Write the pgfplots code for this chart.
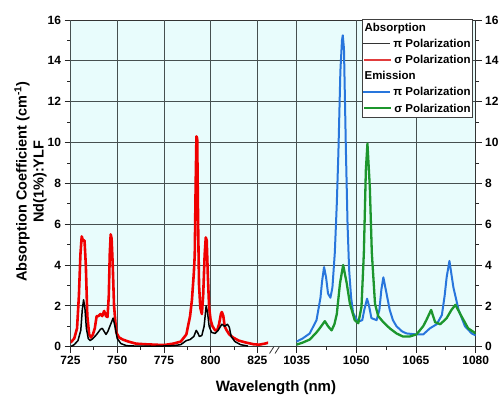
\documentclass[border=0pt]{standalone}
\usepackage{fontspec}
\setmainfont{Liberation Sans}
\usepackage{pgfplots}
\pgfplotsset{compat=1.18}
\definecolor{bgc}{RGB}{232,252,252}
\definecolor{gridc}{RGB}{70,80,80}
\definecolor{myblue}{RGB}{40,118,220}
\definecolor{mygreen}{RGB}{28,150,45}
\definecolor{myred}{RGB}{240,0,0}
\definecolor{legred}{RGB}{225,60,60}
\pgfplotsset{
  common/.style={
    scale only axis, height=326.7pt,
    ymin=0, ymax=16,
    tick align=outside,
    major tick length=6pt, minor tick length=3.5pt,
    every tick/.style={line width=0.8pt, black!85},
    axis line style={line width=0.9pt, black!80},
    tick label style={font=\bfseries\fontsize{12}{14}\selectfont},
    /pgf/number format/assume math mode=true,
    /pgf/number format/1000 sep={},
    grid style={line width=0.8pt, gridc},
  }
}
\begin{document}
\begin{tikzpicture}[x=1pt,y=1pt]
\useasboundingbox (0,0) rectangle (503,396);
% outer frame axis
\begin{axis}[common,
  at={(70.5pt,49.3pt)}, anchor=south west, width=405.2pt,
  xmin=0, xmax=1, xtick=\empty,
  axis x line*=top, axis y line*=left,
  axis background/.style={fill=bgc},
  ytick={0,2,...,16}, minor y tick num=1, ymajorgrids,
  ylabel={Absorption Coefficient (cm\textsuperscript{-1})\\Nd(1\%):YLF},
  ylabel style={at={(axis description cs:-0.0987,0.505)}, anchor=center, align=center,
    font=\bfseries\fontsize{14.5}{17}\selectfont},
  xlabel={Wavelength (nm)},
  xlabel style={at={(axis description cs:0.507,-0.125)}, anchor=center,
    font=\bfseries\fontsize{15}{17}\selectfont},
]
\end{axis}
% left segment
\begin{axis}[common,
  at={(70.5pt,49.3pt)}, anchor=south west, width=197.5pt,
  xmin=725, xmax=830.7, ytick=\empty,
  axis x line*=bottom, axis y line=none,
  xtick={725,750,775,800,825}, minor x tick num=1, xmajorgrids,
]
\addplot[myred, line width=2.6pt, line join=round] coordinates {
(725,0.2) (727,0.4) (728.5,0.9) (729.5,2.5) (730.3,4.5) (731,5.4) (731.7,5.2) (732.5,5.2)
(733.2,4.0) (734,1.5) (735,0.6) (736,0.45) (737,0.6) (738,0.9) (739,1.5) (740,1.5)
(741,1.6) (742,1.5) (743,1.75) (744,1.5) (744.8,1.45) (745.5,2.5) (746,4.5) (746.5,5.5)
(747,5.3) (747.6,4.0) (748.3,2.0) (749.5,0.7) (751,0.45) (753,0.35) (756,0.25) (760,0.15)
(765,0.12) (770,0.1) (775,0.08) (780,0.15) (784,0.25) (787,0.6) (789,1.5) (790,2.3)
(791,3.6) (791.5,4.5) (792,8.0) (792.4,10.3) (792.8,10.2) (793.3,6.0) (793.8,3.0) (794.5,1.9)
(795.3,1.6) (796,2.5) (796.8,4.5) (797.4,5.35) (797.9,5.2) (798.5,3.5) (799.2,1.9) (800,1.3)
(801,1.0) (802.4,0.8) (803.5,0.8) (804.5,1.1) (805.5,1.6) (806,1.7) (806.8,1.5) (807.5,1.0)
(808.6,0.8) (810,0.6) (812,0.45) (815,0.3) (819,0.2) (823,0.12) (826,0.1) (829,0.15) (831,0.2)
};
\addplot[black, line width=1.5pt, line join=round] coordinates {
(725,0.0) (727,0.1) (729,0.3) (730.5,0.8) (731.3,1.8) (732,2.3) (732.7,1.9) (733.5,0.9)
(734.5,0.4) (735.5,0.3) (737,0.4) (739,0.6) (741,0.85) (742,0.9) (743,0.75) (744,0.6)
(745,0.75) (746.5,1.1) (747.8,1.4) (748.8,1.0) (750,0.4) (752,0.15) (755,0.05) (760,0.03)
(770,0.02) (780,0.05) (784,0.1) (787,0.3) (789,0.35) (791,0.5) (792.3,0.8) (793,0.7)
(794,0.5) (795.3,0.55) (796.5,1.0) (797.6,2.0) (798.3,1.7) (799.2,1.0) (800.5,0.7) (802.4,0.65)
(804,0.8) (806,1.1) (807.5,1.0) (809,1.1) (810,0.95) (811,0.5) (813,0.25) (816,0.1) (820,0.03)
};
\end{axis}
% right segment
\begin{axis}[common,
  at={(280pt,49.3pt)}, anchor=south west, width=195.7pt,
  xmin=1030.83, xmax=1080,
  axis x line*=bottom, axis y line*=right,
  xtick={1035,1050,1065,1080}, minor x tick num=1, xmajorgrids,
  ytick={0,2,...,16}, minor y tick num=1,
]
\addplot[myblue, line width=2pt, line join=round] coordinates {
(1035,0.25) (1036.5,0.4) (1038.3,0.65) (1040,1.3) (1041,2.4) (1041.4,3.2) (1041.9,3.9) (1042.4,3.4)
(1042.9,2.6) (1043.5,2.4) (1044,2.9) (1044.6,4.6) (1045.1,7.0) (1045.5,9.5) (1046,13.5) (1046.4,15.0)
(1046.6,15.25) (1046.9,14.6) (1047.4,9.5) (1047.8,6.0) (1048.2,3.75) (1048.7,2.4) (1049.2,1.65) (1050,1.35)
(1050.8,1.25) (1051.5,1.3) (1052,1.8) (1052.7,2.35) (1053.2,2.0) (1053.8,1.4) (1055.1,1.3) (1055.8,1.8)
(1056.3,2.8) (1056.8,3.4) (1057.3,2.9) (1058.4,1.8) (1059.2,1.3) (1060.1,1.0) (1061.5,0.75) (1062.6,0.65)
(1065.1,0.6) (1066.8,0.6) (1068.5,0.9) (1070.2,1.1) (1071.5,1.55) (1072.2,2.5) (1072.7,3.4) (1073.4,4.2)
(1074.4,2.9) (1075.7,1.8) (1077.3,1.0) (1079,0.65) (1080,0.55)
};
\addplot[mygreen, line width=2.3pt, line join=round] coordinates {
(1035,0.1) (1036.5,0.2) (1038.3,0.35) (1040,0.7) (1040.8,0.9) (1042.1,1.25) (1042.9,1.0) (1043.8,0.8)
(1044.5,1.1) (1045.1,1.6) (1045.9,3.1) (1046.7,4.0) (1047.6,3.1) (1048.4,2.1) (1049.6,1.3) (1050.5,1.15)
(1051.3,1.95) (1051.9,4.6) (1052.4,8.65) (1052.8,9.95) (1053.4,7.8) (1053.9,4.6) (1054.7,2.1) (1055.5,1.5)
(1056.8,1.2) (1058.4,0.9) (1060.1,0.65) (1061.7,0.5) (1063.4,0.5) (1065.1,0.6) (1066.8,1.0) (1067.6,1.3)
(1068.8,1.8) (1069.8,1.2) (1071.1,1.1) (1072.7,1.4) (1073.9,1.8) (1074.9,2.05) (1076.4,1.5) (1078.1,0.9)
(1080,0.65)
};
\end{axis}
% axis break marks
\draw[line width=0.8pt, black!80] (269.5,42.5) -- (274,49.5);
\draw[line width=0.8pt, black!80] (275,42.5) -- (279.5,49.5);
% legend
\newcommand{\legline}[1]{\textcolor{#1}{\rule[0.28em]{27pt}{1.5pt}}\hspace{3pt}}
\node[draw=black!75, line width=0.8pt, fill=white, anchor=north east, inner xsep=2pt, inner ysep=0.6pt]
  at (473,376.7) {\bfseries\fontsize{11.5}{16.1}\selectfont
  \begin{tabular}{@{}l@{}}
  \makebox[106pt][l]{Absorption}\\
  \makebox[106pt][r]{\legline{black!80}π~Polarization}\\
  \makebox[106pt][r]{\legline{legred}σ~Polarization}\\
  \makebox[106pt][l]{Emission}\\
  \makebox[106pt][r]{\legline{myblue}π~Polarization}\\
  \makebox[106pt][r]{\legline{mygreen}σ~Polarization}
  \end{tabular}};
\end{tikzpicture}
\end{document}
